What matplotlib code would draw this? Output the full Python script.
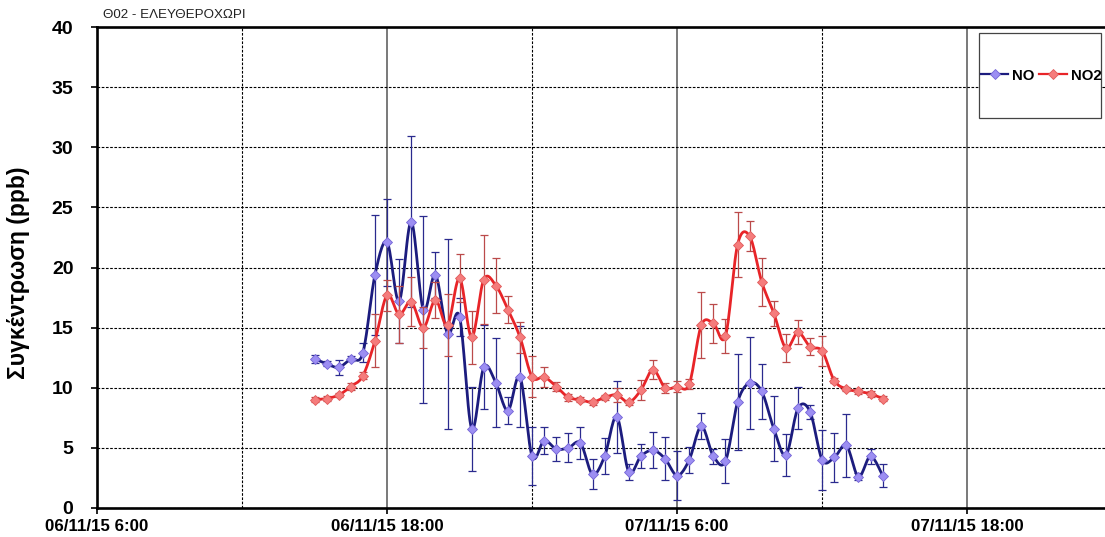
import numpy as np
import pandas as pd
import matplotlib
matplotlib.use("Agg")
import matplotlib.pyplot as plt
import matplotlib.dates as mdates
from matplotlib.patches import Rectangle
from matplotlib.lines import Line2D
from matplotlib.font_manager import FontProperties

# ---- data -------------------------------------------------------------
title = "Θ02 - ΕΛΕΥΘΕΡΟΧΩΡΙ"
ylabel = "Συγκέντρωση (ppb)"
series_names = ["NO", "NO2"]
first_sample = "2015-11-06 15:00"

no = [12.4, 12.0, 11.7, 12.4, 12.9, 19.4, 22.1, 17.2, 23.8, 16.5,
      19.4, 14.5, 15.9, 6.6, 11.7, 10.4, 8.1, 10.9, 4.3, 5.6,
      4.9, 5.0, 5.4, 2.8, 4.3, 7.6, 3.0, 4.3, 4.8, 4.1,
      2.7, 4.0, 6.8, 4.3, 3.9, 8.8, 10.4, 9.7, 6.6, 4.4,
      8.3, 8.0, 4.0, 4.2, 5.2, 2.6, 4.3, 2.7]
no_err = [0.35, 0.2, 0.6, 0.2, 0.8, 5.0, 3.6, 3.5, 7.1, 7.8,
          1.9, 7.9, 1.6, 3.5, 3.5, 3.7, 1.1, 4.2, 2.4, 1.1,
          1.0, 1.2, 1.3, 1.25, 1.5, 3.0, 0.7, 1.0, 1.5, 1.8,
          2.0, 1.1, 1.1, 0.6, 1.8, 4.0, 3.8, 2.3, 2.7, 1.75,
          1.75, 0.6, 2.5, 2.05, 2.6, 0.3, 0.6, 0.95]

no2 = [9.0, 9.1, 9.4, 10.1, 11.0, 13.9, 17.7, 16.1, 17.15, 15.0,
       17.3, 15.2, 19.1, 14.2, 19.0, 18.5, 16.5, 14.2, 10.9, 10.9,
       10.1, 9.2, 9.0, 8.8, 9.2, 9.4, 8.8, 9.8, 11.5, 10.0,
       10.1, 10.3, 15.2, 15.35, 14.3, 21.9, 22.6, 18.8, 16.2, 13.3,
       14.6, 13.4, 13.05, 10.6, 9.9, 9.7, 9.5, 9.1]
no2_err = [0.2, 0.2, 0.2, 0.3, 0.3, 2.2, 1.3, 2.4, 2.05, 1.7,
           1.5, 2.6, 2.0, 2.2, 3.7, 2.3, 1.15, 1.3, 1.7, 0.8,
           0.4, 0.3, 0.2, 0.2, 0.2, 0.6, 0.2, 0.85, 0.8, 0.4,
           0.45, 0.4, 2.75, 1.65, 1.45, 2.7, 1.25, 2.0, 1.05, 1.15,
           1.0, 0.7, 1.25, 0.2, 0.2, 0.2, 0.25, 0.2]

times = pd.date_range(first_sample, periods=len(no), freq="30min")
x_start = pd.Timestamp("2015-11-06 06:00")
x_end = x_start + pd.Timedelta(hours=41.7)
label_ticks = pd.date_range(x_start, periods=4, freq="12h")
y_ticks = list(range(0, 41, 5))


def smooth(x, y, n=14):
    """Catmull-Rom curve through the points (spreadsheet-style smoothed line)."""
    x = np.asarray(x, float)
    y = np.asarray(y, float)
    px = np.concatenate([[x[0]], x, [x[-1]]])
    py = np.concatenate([[y[0]], y, [y[-1]]])
    t = np.linspace(0, 1, n, endpoint=False)[:, None]
    out = []
    for P in (px, py):
        p0, p1, p2, p3 = P[:-3], P[1:-2], P[2:-1], P[3:]
        seg = 0.5 * (2 * p1 + (-p0 + p2) * t
                     + (2 * p0 - 5 * p1 + 4 * p2 - p3) * t ** 2
                     + (-p0 + 3 * p1 - 3 * p2 + p3) * t ** 3)
        out.append(np.concatenate([seg.T.ravel(), [P[-2]]]))
    return out


# ---- figure ----------------------------------------------------------
W, H = 1105, 537
fig = plt.figure(figsize=(W / 100, H / 100), dpi=100)
fig.patch.set_facecolor("white")
ax = fig.add_axes([97 / W, 29 / H, 1 - 97 / W, 481 / H])

xn = mdates.date2num(times.to_pydatetime())

styles = [
    dict(vals=no, err=no_err, line="#1c1c7e", ecol="#2a2a8e",
         mfc="#9c8ef2", mec="#7464d6", z=3),
    dict(vals=no2, err=no2_err, line="#e82428", ecol="#bb4a4a",
         mfc="#f57c7c", mec="#e05a5a", z=6),
]
for s in styles:
    ax.errorbar(xn, s["vals"], yerr=s["err"], fmt="none", ecolor=s["ecol"],
                elinewidth=0.9, capsize=3.2, capthick=0.9, zorder=s["z"])
    sx, sy = smooth(xn, s["vals"])
    ax.plot(sx, sy, color=s["line"], lw=2.0, zorder=s["z"] + 1,
            solid_capstyle="round")
    ax.plot(xn, s["vals"], ls="none", marker="D", ms=5.0, mfc=s["mfc"],
            mec=s["mec"], mew=0.6, zorder=s["z"] + 2)

ax.set_xlim(mdates.date2num(x_start.to_pydatetime()),
            mdates.date2num(x_end.to_pydatetime()))
ax.set_ylim(0, 40)

# grid
ax.set_yticks(y_ticks)
ax.set_xticks(mdates.date2num(label_ticks.to_pydatetime()))
ax.xaxis.set_minor_locator(mdates.HourLocator(byhour=[0, 12]))
ax.grid(axis="y", which="major", color="black", ls=(0, (2.4, 1.4)), lw=0.8)
ax.grid(axis="x", which="major", color="#555555", ls="-", lw=1.1)
ax.grid(axis="x", which="minor", color="black", ls=(0, (2.4, 1.4)), lw=0.8)
ax.set_axisbelow(True)

# tick labels
xfont = FontProperties(family="Liberation Sans", weight="bold", size=12.2)
yfont = FontProperties(family="Liberation Sans", weight="bold", size=14)
ax.set_xticklabels([f"{d:%d/%m/%y} {d.hour}:{d:%M}" for d in label_ticks],
                   fontproperties=xfont)
ax.set_yticklabels([str(v) for v in y_ticks], fontproperties=yfont)
ax.tick_params(axis="x", which="major", direction="out", length=4.5,
               width=1.2, pad=3.5, colors="black")
ax.tick_params(axis="x", which="minor", length=0)
ax.tick_params(axis="y", which="major", direction="out", length=4,
               width=1.2, pad=13)

ax.set_ylabel(ylabel, fontproperties=FontProperties(
    family="Liberation Sans", weight="bold", size=16.5))
ax.yaxis.set_label_coords(-0.066, 0.49)

for side in ("left", "bottom", "top"):
    ax.spines[side].set_linewidth(1.9)
    ax.spines[side].set_color("black")
    ax.spines[side].set_zorder(12)
ax.spines["right"].set_visible(False)

fig.text(103 / W, 1 - 15 / H, title, ha="left", va="center",
         fontfamily="Liberation Sans", fontsize=9.6, color="#222222")

# legend box
ax.add_patch(Rectangle((0.875, 0.81), 0.121, 0.1775, transform=ax.transAxes,
                       facecolor="white", edgecolor="#444444", lw=0.9,
                       zorder=20, clip_on=False))
handles = [Line2D([], [], color=s["line"], lw=1.6, marker="D", ms=4.8,
                  mfc=s["mfc"], mec=s["mec"], mew=0.6) for s in styles]
leg = ax.legend(handles, series_names, ncol=2, loc="center",
                bbox_to_anchor=(0.9365, 0.899), frameon=False,
                prop=FontProperties(family="Liberation Sans", weight="bold",
                                    size=10.8),
                handlelength=1.85, handletextpad=0.25, columnspacing=0.3,
                borderpad=0, borderaxespad=0)
leg.set_zorder(21)

fig.savefig("out.png", dpi=100, facecolor="white")
